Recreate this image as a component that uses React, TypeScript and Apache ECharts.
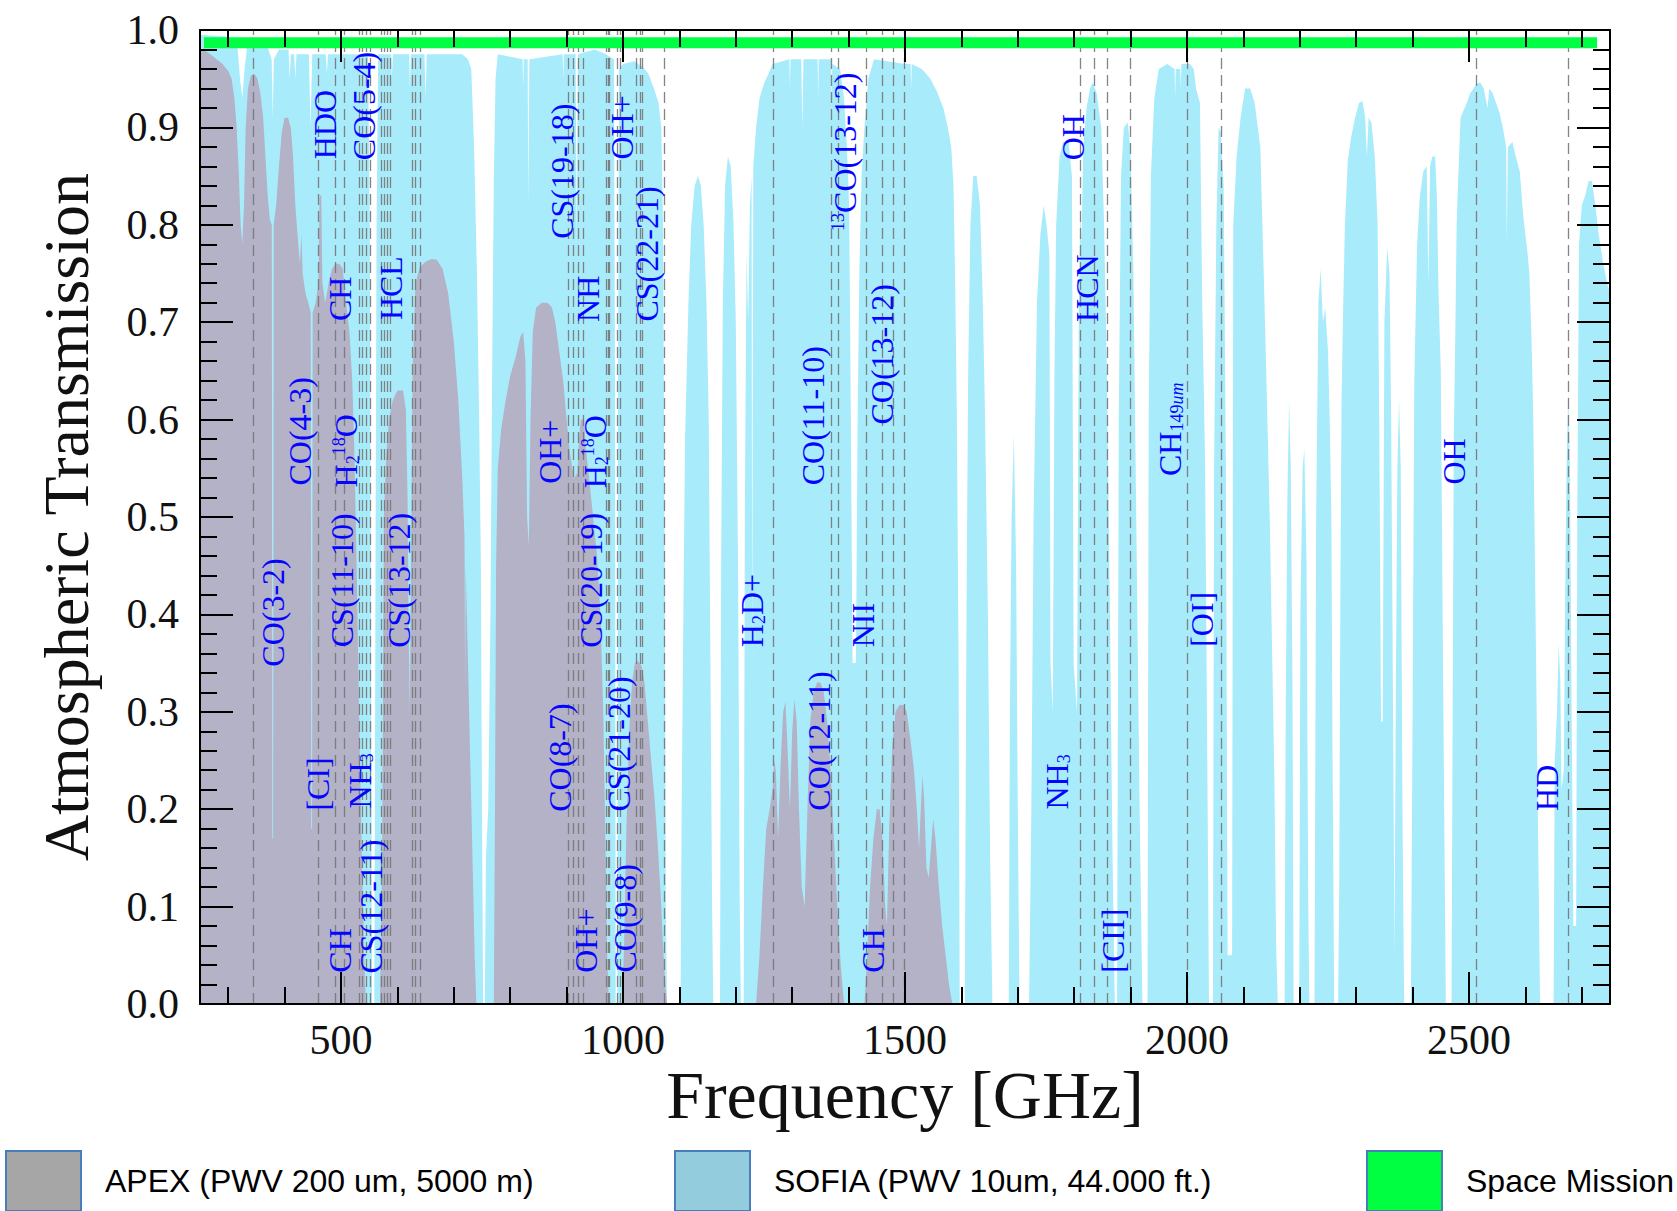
import React, { useEffect, useRef, useState } from 'react';
import * as echarts from 'echarts';

// SOFIA (PWV 10um, 44.000 ft.) transmission: [frequency GHz, transmission]
const sofiaTransmission: [number, number][] = [
  [250, 0.995], [300, 0.993], [316, 0.985], [321, 0.95], [325, 0.93], [329, 0.96], [334, 0.985], [370, 0.982],
  [377, 0.97], [379, 0.91], [381, 0.97], [390, 0.98], [407, 0.98], [409, 0.95], [411, 0.975], [417, 0.975],
  [419, 0.95], [421, 0.975], [443, 0.975], [446, 0.9], [449, 0.975], [473, 0.975], [475, 0.955], [477, 0.975],
  [548, 0.975], [551, 0.8], [553, 0.4], [555, 0], [559, 0], [561, 0.4], [563, 0.8], [566, 0.975],
  [589, 0.975], [590, 0.95], [592, 0.975], [621, 0.975], [622, 0.94], [624, 0.975], [648, 0.975], [650, 0.93],
  [652, 0.975], [715, 0.975], [725, 0.97], [731, 0.96], [736, 0.88], [741, 0.75], [745, 0.6], [748, 0.45],
  [750, 0.2], [752, 0], [755, 0], [757, 0.15], [761, 0.2], [765, 0.4], [768, 0.65], [771, 0.85], [774, 0.95],
  [778, 0.975], [822, 0.97], [823, 0.94], [824, 0.97], [831, 0.97], [832, 0.82], [834, 0.97], [893, 0.975],
  [894, 0.95], [895, 0.975], [916, 0.975], [918, 0.78], [920, 0.975], [950, 0.98], [970, 0.975], [984, 0.97],
  [986, 0.6], [987, 0], [990, 0], [991, 0.6], [993, 0.96], [1000, 0.965], [1020, 0.968], [1035, 0.962],
  [1045, 0.955], [1055, 0.94], [1063, 0.925], [1068, 0.9], [1071, 0.8], [1074, 0.45], [1076, 0.1], [1078, 0],
  [1102, 0], [1104, 0.2], [1107, 0.4], [1110, 0.58], [1116, 0.72], [1121, 0.8], [1127, 0.84], [1133, 0.85],
  [1138, 0.84], [1143, 0.8], [1148, 0.72], [1152, 0.6], [1155, 0.35], [1158, 0.1], [1160, 0], [1172, 0],
  [1174, 0.45], [1177, 0.72], [1181, 0.84], [1186, 0.87], [1191, 0.86], [1196, 0.8], [1200, 0.7], [1204, 0.45],
  [1207, 0.1], [1209, 0], [1214, 0], [1216, 0.5], [1219, 0.77], [1222, 0.7], [1225, 0.82], [1228, 0.85],
  [1229, 0.35], [1231, 0.86], [1236, 0.9], [1242, 0.93], [1250, 0.945], [1258, 0.955], [1265, 0.965],
  [1295, 0.97], [1296, 0.94], [1297, 0.97], [1316, 0.97], [1318, 0.9], [1320, 0.97], [1345, 0.97], [1346, 0.93],
  [1347, 0.97], [1369, 0.97], [1370, 0.92], [1371, 0.965], [1385, 0.96], [1392, 0.93], [1397, 0.88], [1401, 0.82],
  [1404, 0.6], [1407, 0.35], [1413, 0.35], [1416, 0.6], [1419, 0.75], [1423, 0.85], [1428, 0.9], [1435, 0.95],
  [1445, 0.97], [1500, 0.965], [1510, 0.965], [1511, 0.94], [1512, 0.965], [1530, 0.96], [1545, 0.95],
  [1558, 0.935], [1568, 0.92], [1576, 0.9], [1582, 0.88], [1586, 0.84], [1589, 0.74], [1592, 0.6], [1595, 0.35],
  [1597, 0], [1606, 0], [1609, 0.4], [1612, 0.65], [1616, 0.8], [1621, 0.85], [1627, 0.85], [1633, 0.82],
  [1638, 0.72], [1642, 0.6], [1647, 0.4], [1651, 0.15], [1655, 0], [1684, 0], [1686, 0.3], [1689, 0.5],
  [1693, 0.585], [1697, 0.45], [1700, 0.2], [1703, 0], [1720, 0], [1724, 0.2], [1728, 0.5], [1734, 0.72],
  [1740, 0.79], [1746, 0.82], [1751, 0.8], [1756, 0.77], [1758, 0.35], [1762, 0.3], [1765, 0.65], [1768, 0.8],
  [1774, 0.87], [1780, 0.885], [1790, 0.885], [1796, 0.85], [1799, 0.35], [1805, 0.3], [1808, 0.7], [1811, 0.82],
  [1813, 0.78], [1816, 0.88], [1822, 0.92], [1828, 0.94], [1833, 0.946], [1840, 0.935], [1848, 0.9], [1853, 0.8],
  [1858, 0.65], [1863, 0.42], [1868, 0.15], [1872, 0], [1876, 0], [1879, 0.6], [1883, 0.85], [1888, 0.9],
  [1895, 0.905], [1900, 0.875], [1905, 0.75], [1910, 0.5], [1916, 0.2], [1921, 0], [1930, 0], [1932, 0.6],
  [1936, 0.85], [1942, 0.93], [1950, 0.96], [1965, 0.965], [1978, 0.96], [1979, 0.93], [1980, 0.96], [1988, 0.96],
  [1989, 0.94], [1990, 0.965], [2005, 0.965], [2012, 0.96], [2016, 0.94], [2023, 0.925], [2027, 0.72], [2032, 0.56],
  [2036, 0.25], [2039, 0], [2046, 0], [2048, 0.55], [2052, 0.8], [2056, 0.9], [2060, 0.895], [2065, 0.84],
  [2069, 0.55], [2072, 0.05], [2080, 0.05], [2082, 0.8], [2088, 0.87], [2095, 0.91], [2103, 0.94], [2112, 0.94],
  [2120, 0.925], [2130, 0.88], [2137, 0.73], [2143, 0.59], [2147, 0.49], [2151, 0.36], [2155, 0.23], [2158, 0.06],
  [2161, 0], [2173, 0], [2175, 0.3], [2178, 0.52], [2181, 0.62], [2184, 0.55], [2187, 0.33], [2189, 0], [2199, 0],
  [2201, 0.4], [2205, 0.55], [2208, 0.57], [2212, 0.45], [2215, 0.1], [2217, 0], [2226, 0], [2229, 0.5],
  [2233, 0.72], [2237, 0.755], [2241, 0.7], [2245, 0.715], [2250, 0.67], [2253, 0.6], [2256, 0.5], [2258, 0.26],
  [2261, 0], [2268, 0], [2270, 0.13], [2272, 0.43], [2274, 0.62], [2277, 0.72], [2280, 0.8], [2285, 0.865],
  [2291, 0.89], [2298, 0.91], [2305, 0.925], [2311, 0.927], [2316, 0.91], [2319, 0.87], [2322, 0.91], [2327, 0.905],
  [2333, 0.87], [2338, 0.8], [2341, 0.59], [2344, 0.29], [2347, 0.29], [2350, 0.7], [2355, 0.777], [2359, 0.75],
  [2362, 0.6], [2365, 0.33], [2368, 0.05], [2370, 0.3], [2373, 0.55], [2376, 0.62], [2379, 0.55], [2382, 0.2],
  [2385, 0], [2397, 0], [2400, 0.3], [2403, 0.64], [2408, 0.78], [2413, 0.83], [2419, 0.855], [2425, 0.86],
  [2428, 0.74], [2431, 0.86], [2435, 0.87], [2440, 0.87], [2443, 0.83], [2446, 0.73], [2450, 0.65], [2453, 0.42],
  [2456, 0.2], [2459, 0], [2469, 0], [2471, 0.3], [2473, 0.58], [2476, 0.7], [2478, 0.8], [2481, 0.85],
  [2485, 0.91], [2490, 0.917], [2496, 0.925], [2502, 0.935], [2508, 0.94], [2514, 0.945], [2520, 0.946],
  [2526, 0.94], [2533, 0.92], [2536, 0.94], [2542, 0.935], [2548, 0.925], [2554, 0.915], [2560, 0.9], [2566, 0.88],
  [2567, 0.78], [2569, 0.88], [2577, 0.885], [2583, 0.87], [2590, 0.855], [2596, 0.81], [2600, 0.79], [2604, 0.77],
  [2607, 0.75], [2611, 0.68], [2614, 0.6], [2618, 0.4], [2622, 0.2], [2626, 0], [2650, 0], [2652, 0.25],
  [2656, 0.3], [2659, 0.37], [2662, 0.33], [2664, 0.22], [2668, 0.24], [2671, 0.45], [2673, 0.55], [2676, 0.63],
  [2679, 0.55], [2682, 0.3], [2685, 0.08], [2690, 0.08], [2692, 0.5], [2695, 0.78], [2700, 0.82], [2706, 0.83],
  [2712, 0.845], [2718, 0.845], [2724, 0.82], [2730, 0.79], [2738, 0.76], [2745, 0.74], [2750, 0.73],
];

// APEX (PWV 200 um, 5000 m) transmission: [frequency GHz, transmission]
const apexTransmission: [number, number][] = [
  [250, 0.98], [262, 0.978], [275, 0.972], [290, 0.965], [300, 0.958], [306, 0.95], [311, 0.93], [315, 0.9],
  [319, 0.85], [322, 0.8], [325, 0.78], [328, 0.82], [331, 0.9], [335, 0.94], [340, 0.953], [346, 0.955],
  [352, 0.95], [357, 0.935], [362, 0.91], [366, 0.87], [370, 0.83], [374, 0.805], [377.3, 0.8], [378.3, 0.17],
  [379.7, 0.17], [380.7, 0.8], [385, 0.82], [390, 0.86], [395, 0.895], [400, 0.91], [406, 0.91], [411, 0.9],
  [415, 0.87], [419, 0.82], [423, 0.79], [427, 0.76], [430, 0.79], [432, 0.75], [437, 0.73], [442, 0.72],
  [446.3, 0.71], [447.3, 0.18], [448.7, 0.18], [449.7, 0.71], [455, 0.72], [460, 0.74], [462, 0.83], [465, 0.83],
  [467, 0.74], [472, 0.72], [478, 0.74], [484, 0.755], [490, 0.76], [497, 0.76], [503, 0.755], [509, 0.72],
  [515, 0.69], [520, 0.64], [524, 0.56], [528, 0.44], [532, 0.3], [537, 0.15], [541, 0.05], [544, 0], [569, 0],
  [573, 0.15], [576, 0.5], [580, 0.56], [585, 0.6], [592, 0.62], [600, 0.63], [610, 0.63], [615, 0.61],
  [618, 0.52], [620, 0.38], [622, 0.3], [624, 0.45], [627, 0.65], [632, 0.74], [640, 0.757], [650, 0.762],
  [660, 0.765], [670, 0.764], [680, 0.755], [690, 0.73], [700, 0.68], [708, 0.62], [715, 0.54], [719, 0.48],
  [720, 0.32], [721, 0.45], [726, 0.33], [732, 0.18], [737, 0.05], [740, 0], [771, 0], [773, 0.2], [775, 0.45],
  [778, 0.55], [784, 0.59], [792, 0.62], [800, 0.645], [810, 0.665], [818, 0.685], [823, 0.69], [827, 0.66],
  [830, 0.5], [833, 0.47], [836, 0.6], [840, 0.69], [846, 0.715], [856, 0.72], [866, 0.72], [874, 0.715],
  [880, 0.7], [887, 0.67], [894, 0.64], [900, 0.6], [906, 0.565], [913, 0.54], [919, 0.545], [922, 0.58],
  [925, 0.6], [931, 0.6], [934, 0.57], [940, 0.54], [947, 0.5], [954, 0.46], [960, 0.4], [965, 0.3], [969, 0.16],
  [972, 0.05], [975, 0], [998, 0], [1002, 0.06], [1006, 0.18], [1011, 0.28], [1016, 0.33], [1021, 0.35],
  [1027, 0.352], [1033, 0.347], [1038, 0.33], [1044, 0.29], [1050, 0.25], [1056, 0.21], [1062, 0.16],
  [1067, 0.11], [1071, 0.06], [1075, 0.02], [1078, 0], [1236, 0], [1242, 0.05], [1248, 0.12], [1254, 0.18],
  [1260, 0.2], [1265, 0.22], [1268, 0.25], [1271, 0.24], [1275, 0.17], [1279, 0.24], [1284, 0.3], [1288, 0.31],
  [1292, 0.26], [1296, 0.2], [1300, 0.28], [1304, 0.313], [1308, 0.29], [1312, 0.2], [1317, 0.12], [1322, 0.1],
  [1327, 0.2], [1332, 0.29], [1338, 0.32], [1344, 0.33], [1350, 0.33], [1356, 0.32], [1362, 0.29], [1368, 0.24],
  [1374, 0.17], [1380, 0.1], [1386, 0.04], [1392, 0], [1428, 0], [1433, 0.05], [1438, 0.12], [1444, 0.17],
  [1450, 0.2], [1455, 0.2], [1460, 0.17], [1465, 0.1], [1468, 0.08], [1472, 0.18], [1477, 0.26], [1483, 0.3],
  [1490, 0.307], [1497, 0.307], [1503, 0.3], [1510, 0.27], [1516, 0.24], [1521, 0.2], [1525, 0.16], [1528, 0.2],
  [1531, 0.235], [1534, 0.21], [1538, 0.14], [1542, 0.13], [1546, 0.16], [1550, 0.19], [1554, 0.17], [1560, 0.12],
  [1566, 0.08], [1572, 0.05], [1578, 0.02], [1584, 0], [2750, 0],
];

// Space mission: flat transmission across the band
const spaceMission: [number, number][] = [[257, 0.987], [2727, 0.987]];

// Frequencies of the dashed line markers (GHz)
const lineFrequencies: number[] = [
  345, 459, 489, 506, 532, 538, 544, 551, 572, 577, 582, 588, 626, 632, 640,
  903, 912, 921, 929, 970, 973, 976, 990, 995, 1024, 1030, 1035, 1074,
  1267, 1370, 1382, 1432, 1460, 1479, 1498,
  1810, 1836, 1858, 1899, 2000, 2060, 2512, 2676,
];

// Species labels: text, centre frequency, centre transmission
const labelTexts: string[] = [
  'CO(3-2)', 'CO(4-3)', 'HDO', 'CO(5-4)', 'CH', 'HCL', 'H{sub|2}{sup|18}O', 'CS(11-10)', 'CS(13-12)', '[CI]',
  'NH{sub|3}', 'CH', 'CS(12-11)', 'CS(19-18)', 'OH+', 'NH', 'CS(22-21)', 'OH+', 'H{sub|2}{sup|18}O', 'CS(20-19)',
  'CO(8-7)', 'CS(21-20)', 'OH+', 'CO(9-8)', 'H{sub|2}D+', 'CO(11-10)', '{sup|13}CO(13-12)', 'CO(13-12)', 'NII',
  'CO(12-11)', 'CH', 'OH', 'HCN', 'NH{sub|3}', '[CII]', 'CH{sub|149}{subi|um}', '[OI]', 'OH', 'HD',
];
const labelFreqs: number[] = [
  379, 428, 472, 540, 498, 589, 508, 502, 603, 459,
  534, 498, 553, 891, 999, 938, 1043, 870, 950, 944,
  889, 993, 934, 1003, 1228, 1336, 1393, 1460, 1426,
  1348, 1443, 1797, 1822, 1769, 1869, 1970, 2027, 2474, 2639,
];
const labelLevels: number[] = [
  0.402, 0.588, 0.903, 0.922, 0.724, 0.735, 0.568, 0.435, 0.435, 0.226,
  0.229, 0.055, 0.1, 0.855, 0.9, 0.724, 0.77, 0.567, 0.567, 0.435,
  0.253, 0.267, 0.065, 0.088, 0.404, 0.604, 0.875, 0.667, 0.389,
  0.27, 0.055, 0.89, 0.735, 0.228, 0.065, 0.59, 0.395, 0.557, 0.222,
];

const xMajorTicks: number[] = [500, 1000, 1500, 2000, 2500];
const xMinorTicks: number[] = [
  300, 400, 600, 700, 800, 900, 1100, 1200, 1300, 1400, 1600, 1700, 1800, 1900,
  2100, 2200, 2300, 2400, 2600, 2700,
];

const SERIF = 'Liberation Serif';
const SANS = 'Liberation Sans';
const LABEL_BLUE = '#0505ff';

const legendNames = ['APEX (PWV 200 um, 5000 m)', 'SOFIA (PWV 10um, 44.000 ft.)', 'Space Mission'];
const legendColors = ['#a6a6a6', '#93cddd', '#00ff41'];
const legendLefts = [0, 669, 1361];

export default function App() {
  const ref = useRef<HTMLDivElement>(null);
  const [err, setErr] = useState<string>('');

  useEffect(() => {
    if (!ref.current) return;
    const chart = echarts.init(ref.current, undefined, { renderer: 'svg' });

    const axisLine = { show: true, lineStyle: { color: '#000', width: 2 } };
    const tickStyle = { color: '#000', width: 2 };

    const makeX = (position: 'top' | 'bottom', major: boolean, withLabel: boolean, withLine: boolean, name?: string) => ({
      type: 'value',
      position,
      min: 250,
      max: 2750,
      z: 20,
      axisLine: withLine ? axisLine : { show: false },
      splitLine: { show: false },
      axisTick: {
        show: true,
        inside: true,
        length: major ? 32 : 17,
        customValues: major ? xMajorTicks : xMinorTicks,
        lineStyle: tickStyle,
      },
      axisLabel: withLabel
        ? {
            show: true,
            customValues: xMajorTicks,
            formatter: (v: number) => String(v),
            fontFamily: SERIF,
            fontSize: 42,
            color: '#111',
            margin: 15,
          }
        : { show: false },
      name: name,
      nameLocation: 'middle',
      nameGap: 57,
      nameMoveOverlap: false,
      nameTextStyle: { fontFamily: SERIF, fontSize: 68, color: '#111' },
    });

    const makeY = (position: 'left' | 'right', withLabel: boolean, name?: string) => ({
      type: 'value',
      position,
      min: 0,
      max: 1,
      interval: 0.1,
      z: 20,
      axisLine,
      splitLine: { show: false },
      axisTick: { show: true, inside: true, length: 33, lineStyle: tickStyle },
      minorTick: { show: true, splitNumber: 5, length: 17, lineStyle: tickStyle },
      minorSplitLine: { show: false },
      axisLabel: withLabel
        ? {
            show: true,
            formatter: (v: number) => v.toFixed(1),
            fontFamily: SERIF,
            fontSize: 42,
            color: '#111',
            margin: 21,
          }
        : { show: false },
      name: name,
      nameLocation: 'middle',
      nameGap: 102,
      nameMoveOverlap: false,
      nameTextStyle: { fontFamily: SERIF, fontSize: 64, color: '#111' },
    });

    const labelData = labelTexts.map((t, i) => ({ name: t, value: [labelFreqs[i], labelLevels[i]] }));

    const option: any = {
      animation: false,
      backgroundColor: '#ffffff',
      grid: { left: 200, right: 67, top: 30, bottom: 207, containLabel: false },
      legend: legendNames.map((n, i) => ({
        left: legendLefts[i],
        top: 1145,
        orient: 'horizontal',
        selectedMode: false,
        itemWidth: 75,
        itemHeight: 60,
        data: [
          {
            name: n,
            icon: 'rect',
            itemStyle: { color: legendColors[i], borderColor: '#4a7ebb', borderWidth: 2 },
          },
        ],
        textStyle: { fontFamily: SANS, fontSize: 32, color: '#000', padding: [0, 0, 0, 19] },
      })),
      xAxis: [
        makeX('bottom', false, true, true, 'Frequency [GHz]'),
        makeX('bottom', true, false, false),
        makeX('top', false, false, true),
        makeX('top', true, false, false),
      ],
      yAxis: [makeY('left', true, 'Atmospheric Transmission'), makeY('right', false)],
      series: [
        {
          name: legendNames[1],
          type: 'line',
          data: sofiaTransmission,
          symbol: 'none',
          showSymbol: false,
          silent: true,
          lineStyle: { opacity: 0, width: 0 },
          areaStyle: { color: '#a8ecfb', opacity: 1 },
          itemStyle: { color: legendColors[1] },
          z: 1,
        },
        {
          name: legendNames[0],
          type: 'line',
          data: apexTransmission,
          symbol: 'none',
          showSymbol: false,
          silent: true,
          lineStyle: { opacity: 0, width: 0 },
          areaStyle: { color: '#b3b2c7', opacity: 1 },
          itemStyle: { color: legendColors[0] },
          z: 2,
          markLine: {
            silent: true,
            symbol: ['none', 'none'],
            label: { show: false },
            lineStyle: { type: [11, 6], color: '#777', width: 1.3, opacity: 0.9 },
            data: lineFrequencies.map((f) => ({ xAxis: f })),
          },
        },
        {
          name: legendNames[2],
          type: 'line',
          data: spaceMission,
          symbol: 'none',
          showSymbol: false,
          silent: true,
          clip: false,
          lineStyle: { color: '#00ff44', width: 11, opacity: 1 },
          itemStyle: { color: legendColors[2] },
          z: 10,
        },
        {
          name: 'labels',
          type: 'scatter',
          data: labelData,
          symbol: 'circle',
          symbolSize: 2,
          silent: true,
          clip: false,
          itemStyle: { color: 'rgba(0,0,0,0)', opacity: 1 },
          z: 12,
          label: {
            show: true,
            position: 'inside',
            rotate: 90,
            opacity: 1,
            formatter: (p: any) => p.name,
            fontFamily: SERIF,
            fontSize: 32,
            color: LABEL_BLUE,
            rich: {
              sub: { fontFamily: SERIF, fontSize: 18, color: LABEL_BLUE, verticalAlign: 'bottom' },
              sup: { fontFamily: SERIF, fontSize: 18, color: LABEL_BLUE, verticalAlign: 'top' },
              subi: { fontFamily: SERIF, fontSize: 18, fontStyle: 'italic', color: LABEL_BLUE, verticalAlign: 'bottom' },
            },
          },
          labelLayout: { hideOverlap: false },
        },
      ],
    };

    try {
      chart.setOption(option);
    } catch (e: any) {
      setErr(String(e && e.stack ? e.stack : e));
    }
    return () => {
      chart.dispose();
    };
  }, []);

  return (
    <>
      <div
        ref={ref}
        style={{ position: 'absolute', left: 0, top: 0, width: 1677, height: 1211, background: '#fff' }}
      />
      {err ? (
        <pre style={{ position: 'absolute', left: 250, top: 300, fontSize: 14, color: 'red', zIndex: 5, whiteSpace: 'pre-wrap', width: 1200 }}>
          {err}
        </pre>
      ) : null}
    </>
  );
}
